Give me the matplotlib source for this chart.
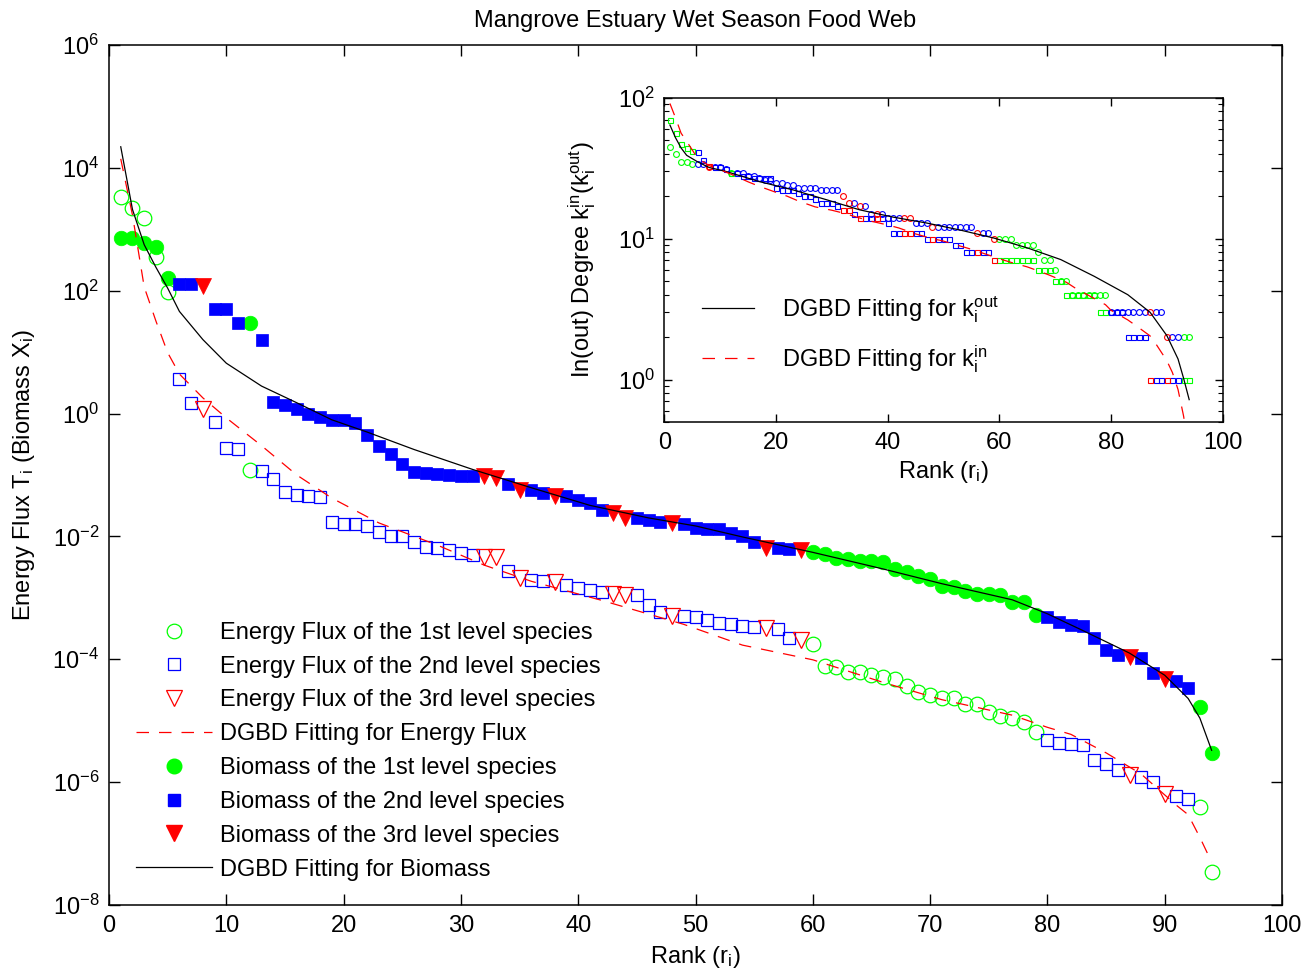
import matplotlib
matplotlib.use("Agg")
import matplotlib.pyplot as plt
from matplotlib.lines import Line2D
from matplotlib.ticker import LogLocator, NullLocator, NullFormatter, LogFormatterSciNotation
import numpy as np

plt.rcParams["font.family"] = ["Liberation Sans", "DejaVu Sans"]
plt.rcParams["mathtext.fontset"] = "custom"
plt.rcParams["mathtext.rm"] = "Liberation Sans"
plt.rcParams["mathtext.it"] = "Liberation Sans"
plt.rcParams["mathtext.default"] = "regular"

# ── Data ──────────────────────────────────────────────────────────────────────
ranks = np.arange(1, 95)

# trophic level of the species at each rank (1 = green, 2 = blue, 3 = red)
level = [1, 1, 1, 1, 1, 2, 2, 3, 2, 2,
         2, 1, 2, 2, 2, 2, 2, 2, 2, 2,
         2, 2, 2, 2, 2, 2, 2, 2, 2, 2,
         2, 3, 3, 2, 3, 2, 2, 3, 2, 2,
         2, 2, 3, 3, 2, 2, 2, 3, 2, 2,
         2, 2, 2, 2, 2, 3, 2, 2, 3, 1,
         1, 1, 1, 1, 1, 1, 1, 1, 1, 1,
         1, 1, 1, 1, 1, 1, 1, 1, 1, 2,
         2, 2, 2, 2, 2, 2, 3, 2, 2, 3,
         2, 2, 1, 1]

energy_flux = [3.4e3, 2.2e3, 1.5e3, 3.5e2, 95, 3.7, 1.5, 1.2, 0.72, 0.27,
               0.26, 0.12, 0.118, 0.085, 0.052, 0.047, 0.045, 0.043, 0.017, 0.016,
               0.0158, 0.015, 0.012, 0.0102, 0.010, 8.1e-3, 6.8e-3, 6.5e-3, 6.0e-3, 5.4e-3,
               5.0e-3, 4.7e-3, 4.6e-3, 2.7e-3, 2.1e-3, 1.95e-3, 1.9e-3, 1.8e-3, 1.6e-3, 1.45e-3,
               1.35e-3, 1.25e-3, 1.15e-3, 1.12e-3, 1.1e-3, 7.6e-4, 5.9e-4, 5.1e-4, 5.0e-4, 4.9e-4,
               4.3e-4, 3.9e-4, 3.7e-4, 3.5e-4, 3.4e-4, 3.2e-4, 3.1e-4, 2.2e-4, 2.05e-4, 1.75e-4,
               7.9e-5, 7.4e-5, 6.3e-5, 6.2e-5, 5.5e-5, 5.1e-5, 4.8e-5, 3.7e-5, 2.9e-5, 2.6e-5,
               2.35e-5, 2.3e-5, 1.9e-5, 1.85e-5, 1.4e-5, 1.2e-5, 1.1e-5, 9.5e-6, 6.6e-6, 4.9e-6,
               4.3e-6, 4.2e-6, 4.0e-6, 2.3e-6, 1.95e-6, 1.6e-6, 1.3e-6, 1.2e-6, 1.0e-6, 6.5e-7,
               5.9e-7, 5.4e-7, 3.9e-7, 3.5e-8]

biomass = [720, 710, 590, 510, 160, 130, 128, 120, 51, 50,
           30, 30, 16, 1.55, 1.4, 1.2, 1.0, 0.89, 0.79, 0.78,
           0.71, 0.45, 0.30, 0.22, 0.15, 0.11, 0.107, 0.105, 0.100, 0.098,
           0.097, 0.095, 0.089, 0.072, 0.058, 0.057, 0.050, 0.046, 0.045, 0.039,
           0.035, 0.027, 0.024, 0.020, 0.0198, 0.0186, 0.0174, 0.0163, 0.016, 0.0135,
           0.0133, 0.0131, 0.0112, 0.0102, 8.1e-3, 6.5e-3, 6.4e-3, 6.2e-3, 6.0e-3, 5.6e-3,
           5.1e-3, 4.4e-3, 4.3e-3, 4.0e-3, 3.95e-3, 3.9e-3, 3.0e-3, 2.6e-3, 2.3e-3, 2.0e-3,
           1.55e-3, 1.5e-3, 1.3e-3, 1.15e-3, 1.14e-3, 1.13e-3, 8.7e-4, 8.6e-4, 5.2e-4, 4.9e-4,
           4.0e-4, 3.6e-4, 3.5e-4, 2.2e-4, 1.4e-4, 1.17e-4, 1.1e-4, 1.05e-4, 5.9e-5, 4.7e-5,
           4.5e-5, 3.4e-5, 1.7e-5, 3.0e-6]

fit_bio_rank = [1, 2, 3, 4, 5, 6, 8, 10, 13, 16, 19, 22, 26, 31, 36, 41, 46, 50,
                54, 60, 66, 71, 77, 80, 83, 87, 90, 92, 93, 94]
fit_bio_val = [2.2e4, 2.1e3, 5.6e2, 2.4e2, 1.1e2, 46, 16, 6.6, 2.8, 1.5, 0.79, 0.50,
               0.26, 0.123, 0.062, 0.032, 0.020, 0.0148, 9.8e-3, 5.5e-3, 2.95e-3,
               1.7e-3, 9.3e-4, 5.5e-4, 2.95e-4, 1.26e-4, 5.5e-5, 2.3e-5, 1.1e-5, 3.3e-6]

fit_flux_rank = [1, 2, 3, 4, 5, 6, 8, 10, 13, 16, 19, 23, 28, 32, 36, 42, 49, 54,
                 60, 66, 71, 77, 80, 82, 85, 88, 91, 92, 93, 94]
fit_flux_val = [1.4e4, 1.7e3, 1.15e2, 32, 9.8, 4.4, 1.8, 0.85, 0.30, 0.10, 0.042,
                0.0166, 7.2e-3, 3.4e-3, 1.86e-3, 9.1e-4, 3.7e-4, 1.7e-4, 9.8e-5,
                4.2e-5, 2.2e-5, 1.23e-5, 7.8e-6, 6.0e-6, 3.0e-6, 1.35e-6, 4.2e-7,
                2.95e-7, 1.26e-7, 5.0e-8]

# inset: out-degree (circles) and in-degree (squares) per rank
k_out = [45, 40, 35, 35, 34, 34, 34, 32, 32, 32,
         31, 29, 29, 29, 28, 28, 27, 26, 26, 25,
         25, 24, 24, 23, 23, 23, 23, 22, 22, 22,
         22, 20, 18, 18, 17, 17, 15, 15, 15, 14,
         14, 14, 14, 14, 13, 13, 13, 12, 12, 12,
         12, 12, 12, 12, 12, 11, 11, 11, 10, 10,
         10, 10, 9, 9, 9, 9, 8, 7, 7, 6,
         5, 5, 4, 4, 4, 4, 4, 4, 4, 3,
         3, 3, 3, 3, 3, 3, 3, 3, 3, 2,
         2, 2, 2, 2]

k_in = [70, 56, 47, 44, 42, 41, 36, 33, 32, 32,
        31, 29, 29, 28, 28, 27, 27, 27, 27, 23,
        22, 22, 22, 21, 20, 20, 19, 18, 18, 18,
        17, 16, 16, 15, 14, 14, 14, 14, 14, 13,
        11, 11, 11, 11, 11, 11, 10, 10, 10, 10,
        10, 9, 9, 8, 8, 8, 8, 8, 7, 7,
        7, 7, 7, 7, 7, 7, 6, 6, 6, 5,
        5, 4, 4, 4, 4, 4, 4, 3, 3, 3,
        3, 3, 2, 2, 2, 2, 1, 1, 1, 1,
        1, 1, 1, 1]

fit_out_rank = [1, 2, 3, 4, 6, 8, 11, 17, 23, 29, 35, 41, 47, 53, 59, 65, 71, 77,
                83, 87, 90, 92, 93, 94]
fit_out_val = [64, 52, 44, 39, 35, 32, 30, 25.4, 22.2, 18.9, 16, 14.2, 12.9, 11.5,
               10.1, 8.6, 7.1, 5.4, 4.0, 3.0, 2.05, 1.4, 1.02, 0.72]

fit_in_rank = [1, 2, 3, 4, 6, 8, 10, 12, 15, 17, 20, 22, 24, 27, 30, 32, 35, 37, 40,
               42, 45, 48, 50, 52, 55, 57, 60, 62, 65, 67, 69, 72, 74, 76, 79, 80,
               83, 85, 87, 88, 90, 91, 92, 93, 94]
fit_in_val = [91, 72, 56, 49, 37, 33, 30.8, 28.6, 25.3, 23.5, 21.3, 20, 18.5, 16.8,
              15.9, 15.2, 14, 13.3, 12.5, 11.9, 10.8, 10.0, 9.6, 9.1, 8.4, 7.9, 7.2,
              6.8, 6.3, 5.9, 5.5, 4.9, 4.35, 3.95, 3.4, 3.1, 2.65, 2.33, 2.04, 1.8,
              1.36, 1.12, 0.85, 0.55, 0.3]

level_colors = {1: "#00ff00", 2: "#0000ff", 3: "#ff0000"}
level_names = {1: "1st", 2: "2nd", 3: "3rd"}

level = np.array(level)
energy_flux = np.array(energy_flux)
biomass = np.array(biomass)
k_out = np.array(k_out)
k_in = np.array(k_in)

FS = 17

# ── Main axes ─────────────────────────────────────────────────────────────────
fig = plt.figure(figsize=(13.15, 9.77), dpi=100)
ax = fig.add_axes([0.0829, 0.0737, 0.8920, 0.8803])

open_style = {1: dict(marker="o", ms=10.5), 2: dict(marker="s", ms=8.8),
              3: dict(marker="v", ms=11.5)}
fill_style = {1: dict(marker="o", ms=10.5), 2: dict(marker="s", ms=9.0),
              3: dict(marker="v", ms=12.0)}

for lv in (1, 2, 3):
    m = level == lv
    ax.plot(ranks[m], energy_flux[m], linestyle="none", mfc="none",
            mec=level_colors[lv], mew=0.9, **open_style[lv])
for lv in (1, 2, 3):
    m = level == lv
    ax.plot(ranks[m], biomass[m], linestyle="none", mfc=level_colors[lv],
            mec=level_colors[lv], mew=0.5, **fill_style[lv])

ax.plot(fit_flux_rank, fit_flux_val, color="red", lw=0.9, linestyle=(0, (10, 8)))
ax.plot(fit_bio_rank, fit_bio_val, color="black", lw=0.9)

ax.set_yscale("log")
ax.set_xlim(0, 100)
ax.set_ylim(1e-8, 1e6)
ax.set_xticks(np.arange(0, 101, 10))
ax.set_yticks([1e-8, 1e-6, 1e-4, 1e-2, 1e0, 1e2, 1e4, 1e6])
ax.yaxis.set_minor_locator(NullLocator())
ax.yaxis.set_major_formatter(LogFormatterSciNotation())
ax.tick_params(which="both", direction="in", top=True, right=True,
               length=8, width=1, labelsize=FS, pad=7)
for s in ax.spines.values():
    s.set_linewidth(1.1)

ax.set_xlabel("Rank (r$_i$)", fontsize=FS, labelpad=5)
ax.set_ylabel("Energy Flux T$_i$ (Biomass X$_i$)", fontsize=FS, labelpad=11)
ax.set_title("Mangrove Estuary Wet Season Food Web", fontsize=FS, pad=13)

handles = []
for lv in (1, 2, 3):
    handles.append(Line2D([], [], linestyle="none", mfc="none", mec=level_colors[lv],
                          mew=0.9, color=level_colors[lv], **open_style[lv],
                          label=f"Energy Flux of the {level_names[lv]} level species"))
handles.append(Line2D([], [], color="red", lw=0.9, linestyle=(0, (10, 8)),
                      label="DGBD Fitting for Energy Flux"))
for lv in (1, 2, 3):
    handles.append(Line2D([], [], linestyle="none", mfc=level_colors[lv],
                          mec=level_colors[lv], color=level_colors[lv], **fill_style[lv],
                          label=f"Biomass of the {level_names[lv]} level species"))
handles.append(Line2D([], [], color="black", lw=0.9, label="DGBD Fitting for Biomass"))

ax.legend(handles=handles, loc="lower left", bbox_to_anchor=(0.011, 0.012),
          frameon=False, fontsize=FS, handlelength=3.2, handletextpad=0.35,
          labelspacing=0.5, borderaxespad=0.2)

# ── Inset: degree distributions ──────────────────────────────────────────────
axin = fig.add_axes([0.5052, 0.5681, 0.4246, 0.3319])
for lv in (1, 2, 3):
    m = level == lv
    axin.plot(ranks[m], k_out[m], linestyle="none", marker="o", ms=4.2,
              mfc="none", mec=level_colors[lv], mew=0.8)
    axin.plot(ranks[m], k_in[m], linestyle="none", marker="s", ms=3.6,
              mfc="none", mec=level_colors[lv], mew=0.8)

l_out, = axin.plot(fit_out_rank, fit_out_val, color="black", lw=0.9,
                   label="DGBD Fitting for k$_i^{out}$")
l_in, = axin.plot(fit_in_rank, fit_in_val, color="red", lw=0.9, linestyle=(0, (10, 8)),
                  label="DGBD Fitting for k$_i^{in}$")

axin.set_yscale("log")
axin.set_xlim(0, 100)
axin.set_ylim(0.5, 100)
axin.set_xticks(np.arange(0, 101, 20))
axin.yaxis.set_major_locator(LogLocator(base=10))
axin.yaxis.set_minor_locator(LogLocator(base=10, subs=np.arange(2, 10)))
axin.yaxis.set_minor_formatter(NullFormatter())
axin.tick_params(which="major", direction="in", top=True, right=True,
                 length=6, width=1, labelsize=FS, pad=7)
axin.tick_params(which="minor", direction="in", top=True, right=True,
                 length=3.5, width=0.8)
for s in axin.spines.values():
    s.set_linewidth(1.1)
axin.set_xlabel("Rank (r$_i$)", fontsize=FS, labelpad=4)
axin.set_ylabel("In(out) Degree k$_i^{in}$(k$_i^{out}$)", fontsize=FS, labelpad=14)
axin.legend(handles=[l_out, l_in], loc="center left", bbox_to_anchor=(0.029, 0.27),
            frameon=False, fontsize=FS, handlelength=2.2, handletextpad=1.19,
            labelspacing=0.8)

fig.savefig("out.png", dpi=100)
